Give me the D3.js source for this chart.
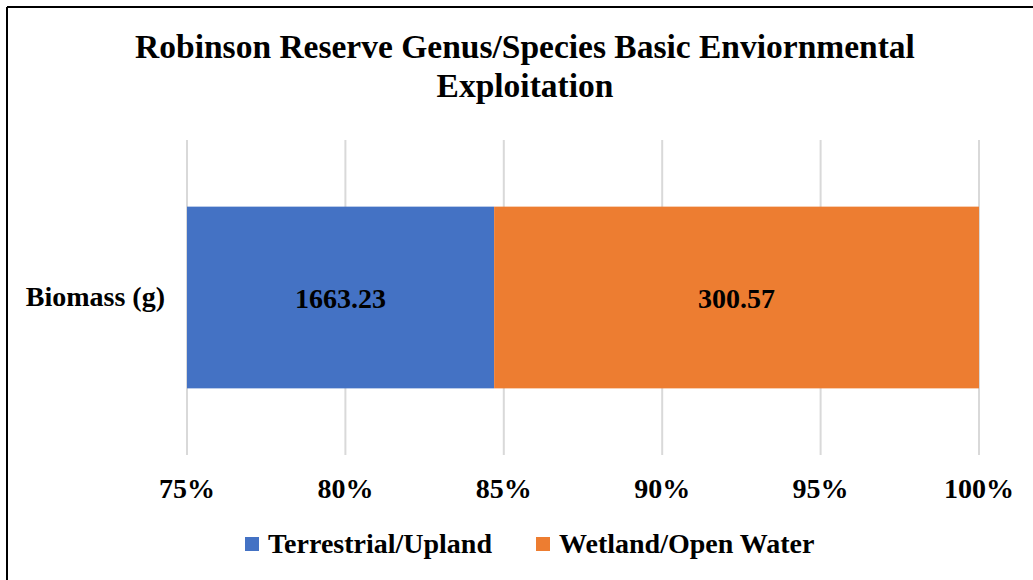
<!DOCTYPE html>
<html>
<head>
<meta charset="utf-8">
<script src="https://cdn.jsdelivr.net/npm/d3@7"></script>
<style>
  body { margin: 0; background: #fff; }
  svg { display: block; font-family: "Liberation Serif", "Times New Roman", serif; font-weight: bold; }
</style>
</head>
<body>
<svg id="chart" width="1033" height="580"></svg>
<script>
const categories = ["Biomass (g)"];
const seriesNames = ["Terrestrial/Upland", "Wetland/Open Water"];
const seriesValues = [[1663.23], [300.57]];
const seriesColors = ["#4472c4", "#ed7d31"];
const tickValues = [0.75, 0.80, 0.85, 0.90, 0.95, 1.00];

const svg = d3.select("#chart");

// frame (left and top edges only visible)
svg.append("line").attr("x1", 7).attr("y1", 7).attr("x2", 1033).attr("y2", 7)
    .attr("stroke", "#000").attr("stroke-width", 2);
svg.append("line").attr("x1", 7).attr("y1", 7).attr("x2", 7).attr("y2", 580)
    .attr("stroke", "#000").attr("stroke-width", 2);

// title
const title = svg.append("text").attr("text-anchor", "middle").attr("font-size", 33.5);
title.append("tspan").attr("x", 525).attr("y", 58).text("Robinson Reserve Genus/Species Basic Enviornmental");
title.append("tspan").attr("x", 525).attr("y", 97).text("Exploitation");

const x = d3.scaleLinear().domain([0.75, 1.0]).range([187, 979]);
const y = d3.scaleBand().domain(categories).range([140, 455]).paddingInner(0.4).paddingOuter(0.22);

// gridlines
svg.append("g").selectAll("line").data(tickValues).enter().append("line")
    .attr("x1", d => x(d)).attr("x2", d => x(d))
    .attr("y1", 140).attr("y2", 455)
    .attr("stroke", "#d9d9d9").attr("stroke-width", 2);

// tick labels
svg.append("g").selectAll("text").data(tickValues).enter().append("text")
    .attr("x", d => x(d)).attr("y", 498)
    .attr("text-anchor", "middle").attr("font-size", 28)
    .text(d => d3.format(".0%")(d));

// stacked percentages
const rows = categories.map((c, i) => {
    const total = d3.sum(seriesValues, s => s[i]);
    let acc = 0;
    return seriesValues.map((s, k) => {
        const start = acc / total;
        acc += s[i];
        return { cat: c, k, value: s[i], start, end: acc / total };
    });
}).flat();

svg.append("clipPath").attr("id", "plotclip")
    .append("rect").attr("x", x(0.75)).attr("y", 0).attr("width", x(1) - x(0.75)).attr("height", 580);

svg.append("g").attr("clip-path", "url(#plotclip)")
    .selectAll("rect").data(rows).enter().append("rect")
    .attr("x", d => x(Math.max(d.start, 0.75)))
    .attr("width", d => x(d.end) - x(Math.max(d.start, 0.75)))
    .attr("y", d => y(d.cat))
    .attr("height", y.bandwidth())
    .attr("fill", d => seriesColors[d.k]);

// data labels
svg.append("g").selectAll("text").data(rows).enter().append("text")
    .attr("x", d => (x(Math.max(d.start, 0.75)) + x(d.end)) / 2)
    .attr("y", d => y(d.cat) + y.bandwidth() / 2 + 10)
    .attr("text-anchor", "middle").attr("font-size", 28)
    .text(d => d3.format(".2f")(d.value));

// category labels
svg.append("g").selectAll("text").data(categories).enter().append("text")
    .attr("x", 165).attr("y", d => y(d) + y.bandwidth() / 2 + 8)
    .attr("text-anchor", "end").attr("font-size", 28)
    .text(d => d);

// legend
const legendX = [245, 536];
const legend = svg.append("g").selectAll("g").data(seriesNames).enter().append("g")
    .attr("transform", (d, i) => `translate(${legendX[i]},537)`);
legend.append("rect").attr("width", 14).attr("height", 14).attr("fill", (d, i) => seriesColors[i]);
legend.append("text").attr("x", 23).attr("y", 16).attr("font-size", 28).text(d => d);
</script>
</body>
</html>
